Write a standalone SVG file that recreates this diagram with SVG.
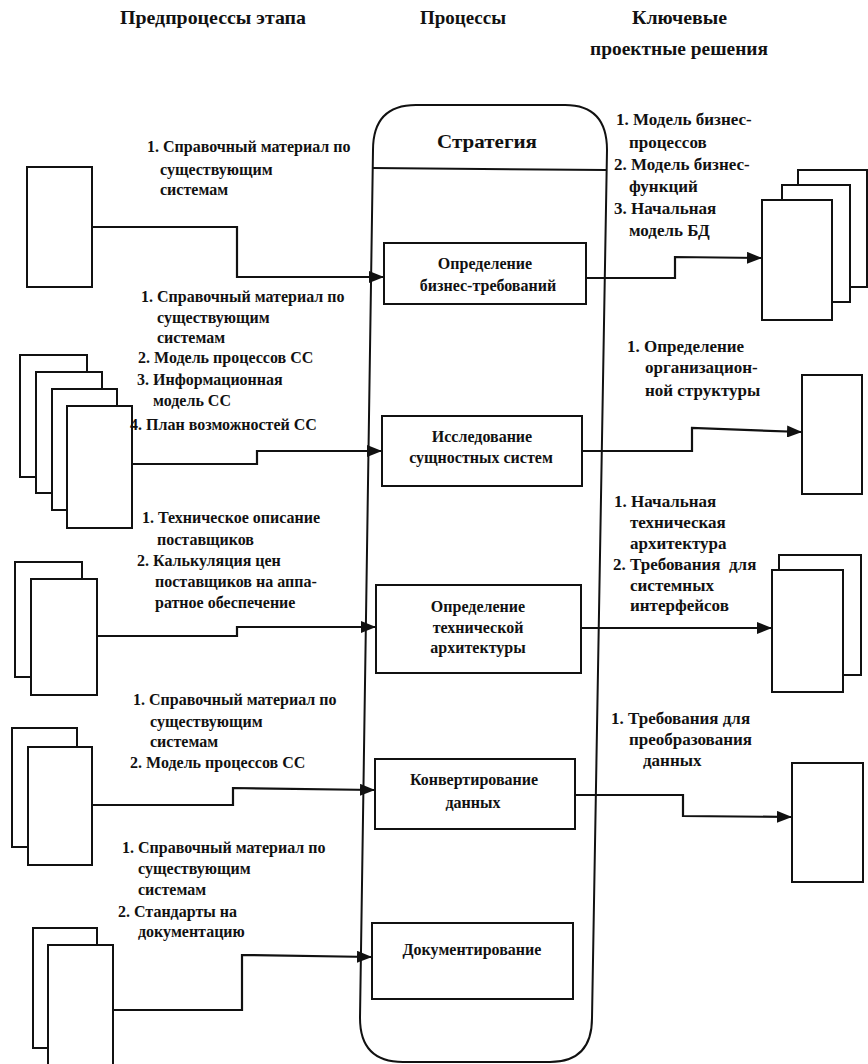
<svg xmlns="http://www.w3.org/2000/svg" width="868" height="1064" viewBox="0 0 868 1064">
<style>
.h{font-family:'Liberation Serif',serif;font-weight:bold;font-size:19px;fill:#111}
.l{font-family:'Liberation Serif',serif;font-weight:bold;font-size:16px;fill:#111}
.r{font-family:'Liberation Serif',serif;font-weight:bold;font-size:17px;fill:#111}
.p{font-family:'Liberation Serif',serif;font-weight:bold;font-size:16px;fill:#111;text-anchor:middle}
.box,.doc{fill:#fff;stroke:#111;stroke-width:2}
.lane{fill:none;stroke:#111;stroke-width:2}
.c{fill:none;stroke:#111;stroke-width:2.2}
</style>
<defs>
<marker id="ah" markerWidth="15" markerHeight="12" refX="15" refY="6" orient="auto" markerUnits="userSpaceOnUse"><path d="M0,0 L15,6 L0,12 Z" fill="#111"/></marker>
</defs>
<rect width="868" height="1064" fill="#fff"/>
<g id="headers">
<text class="h" x="120" y="24" textLength="186" lengthAdjust="spacingAndGlyphs">Предпроцессы этапа</text>
<text class="h" x="420" y="24" textLength="86" lengthAdjust="spacingAndGlyphs">Процессы</text>
<text class="h" x="632" y="24" textLength="95" lengthAdjust="spacingAndGlyphs">Ключевые</text>
<text class="h" x="590" y="55" textLength="178" lengthAdjust="spacingAndGlyphs">проектные решения</text>
</g>
<g id="lane">
<path class="lane" d="M373,150 Q373,105 416,105 L565,105 Q607,105 607,150 L592,1018 Q592,1062 550,1062 L403,1062 Q360,1062 360,1018 Z"/>
<path class="lane" d="M372,168 L606,170"/>
<text class="h" x="487" y="148" text-anchor="middle" textLength="100" lengthAdjust="spacingAndGlyphs">Стратегия</text>
</g>
<g id="p1"><rect class="box" x="384" y="243" width="202" height="61"/>
<text class="p" x="485" y="269">Определение</text><text class="p" x="488" y="291">бизнес-требований</text></g>
<g id="p2"><rect class="box" x="382" y="416" width="200" height="70"/>
<text class="p" x="482" y="442">Исследование</text><text class="p" x="481" y="463">сущностных систем</text></g>
<g id="p3"><rect class="box" x="376" y="585" width="205" height="88"/>
<text class="p" x="478" y="612">Определение</text><text class="p" x="478" y="633">технической</text><text class="p" x="478" y="653">архитектуры</text></g>
<g id="p4"><rect class="box" x="375" y="759" width="200" height="70"/>
<text class="p" x="474" y="785">Конвертирование</text><text class="p" x="473" y="808">данных</text></g>
<g id="p5"><rect class="box" x="372" y="923" width="201" height="76"/>
<text class="p" x="472" y="955">Документирование</text></g>

<g id="in1"><rect class="doc" x="27" y="167" width="65" height="120"/></g>
<g id="in2"><rect class="doc" x="20" y="355" width="67" height="122"/><rect class="doc" x="36" y="372" width="66" height="121"/><rect class="doc" x="52" y="389" width="65" height="121"/><rect class="doc" x="67" y="406" width="65" height="122"/></g>
<g id="in3"><rect class="doc" x="15" y="562" width="67" height="115"/><rect class="doc" x="31" y="579" width="66" height="116"/></g>
<g id="in4"><rect class="doc" x="12" y="728" width="65" height="119"/><rect class="doc" x="28" y="747" width="64" height="118"/></g>
<g id="in5"><rect class="doc" x="33" y="928" width="64" height="120"/><rect class="doc" x="48" y="945" width="65" height="125"/></g>

<g id="out1"><rect class="doc" x="798" y="170" width="69" height="117"/><rect class="doc" x="782" y="185" width="68" height="117"/><rect class="doc" x="762" y="200" width="70" height="120"/></g>
<g id="out2"><rect class="doc" x="802" y="375" width="60" height="119"/></g>
<g id="out3"><rect class="doc" x="779" y="555" width="82" height="120"/><rect class="doc" x="772" y="570" width="71" height="122"/></g>
<g id="out4"><rect class="doc" x="792" y="763" width="71" height="119"/></g>

<g id="labels-in">
<text class="l" x="147" y="152">1. Справочный материал по</text>
<text class="l" x="160" y="175">существующим</text>
<text class="l" x="160" y="195">системам</text>

<text class="l" x="141" y="302">1. Справочный материал по</text>
<text class="l" x="157" y="323">существующим</text>
<text class="l" x="157" y="343">системам</text>
<text class="l" x="138" y="363">2. Модель процессов СС</text>
<text class="l" x="137" y="385">3. Информационная</text>
<text class="l" x="153" y="406">модель СС</text>
<text class="l" x="130" y="430">4. План возможностей СС</text>

<text class="l" x="142" y="523">1. Техническое описание</text>
<text class="l" x="157" y="545">поставщиков</text>
<text class="l" x="137" y="566">2. Калькуляция цен</text>
<text class="l" x="155" y="587">поставщиков на аппа-</text>
<text class="l" x="155" y="608">ратное обеспечение</text>

<text class="l" x="133" y="705">1. Справочный материал по</text>
<text class="l" x="150" y="727">существующим</text>
<text class="l" x="150" y="747">системам</text>
<text class="l" x="130" y="768">2. Модель процессов СС</text>

<text class="l" x="122" y="853">1. Справочный материал по</text>
<text class="l" x="138" y="874">существующим</text>
<text class="l" x="138" y="895">системам</text>
<text class="l" x="118" y="917">2. Стандарты на</text>
<text class="l" x="138" y="937">документацию</text>
</g>
<g id="labels-out">
<text class="r" x="616" y="125">1. Модель бизнес-</text>
<text class="r" x="629" y="148">процессов</text>
<text class="r" x="614" y="170">2. Модель бизнес-</text>
<text class="r" x="629" y="192">функций</text>
<text class="r" x="614" y="214">3. Начальная</text>
<text class="r" x="629" y="236">модель БД</text>

<text class="r" x="627" y="352">1. Определение</text>
<text class="r" x="645" y="373">организацион-</text>
<text class="r" x="645" y="396">ной структуры</text>

<text class="r" x="614" y="507">1. Начальная</text>
<text class="r" x="630" y="528">техническая</text>
<text class="r" x="630" y="549">архитектура</text>
<text class="r" x="613" y="570" xml:space="preserve">2. Требования  для</text>
<text class="r" x="630" y="591">системных</text>
<text class="r" x="630" y="611">интерфейсов</text>

<text class="r" x="611" y="724">1. Требования для</text>
<text class="r" x="629" y="745">преобразования</text>
<text class="r" x="643" y="766">данных</text>
</g>
<g id="connectors">
<path class="c" marker-end="url(#ah)" d="M92,227 L237,227 L237,277 L384,277"/>
<path class="c" marker-end="url(#ah)" d="M132,464 L257,464 L257,451 L382,451"/>
<path class="c" marker-end="url(#ah)" d="M97,636 L237,636 L237,627 L376,627"/>
<path class="c" marker-end="url(#ah)" d="M92,805 L233,805 L233,788 L375,790"/>
<path class="c" marker-end="url(#ah)" d="M113,1010 L242,1010 L242,955 L372,957"/>
<path class="c" marker-end="url(#ah)" d="M586,278 L675,278 L675,257 L762,258"/>
<path class="c" marker-end="url(#ah)" d="M582,451 L692,451 L692,428 L802,432"/>
<path class="c" marker-end="url(#ah)" d="M581,628 L772,628"/>
<path class="c" marker-end="url(#ah)" d="M575,795 L683,795 L683,816 L792,817"/>
</g>
</svg>
